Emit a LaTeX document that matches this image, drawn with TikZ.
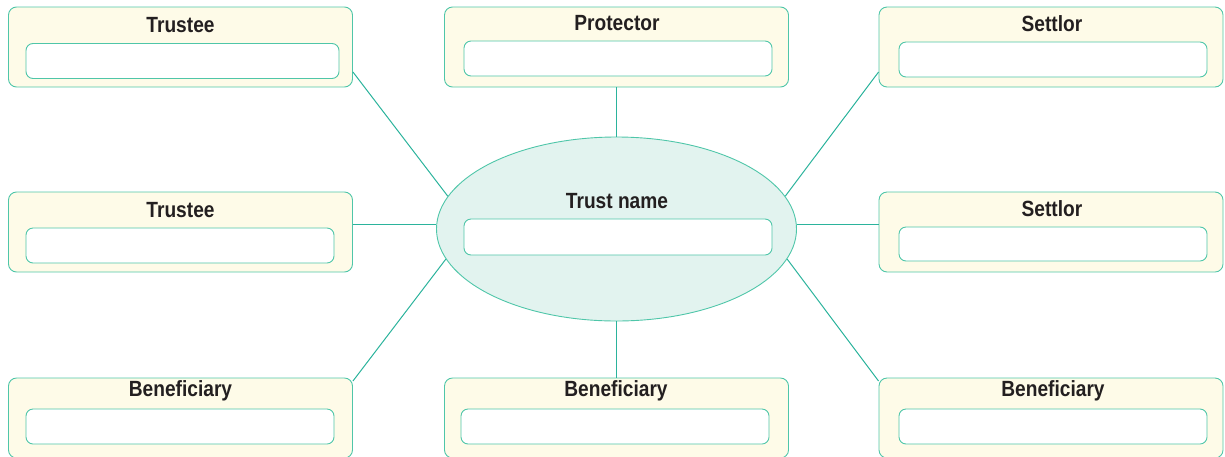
\documentclass[tikz,border=0pt]{standalone}
\usepackage{fontspec}
\setmainfont{Liberation Sans}
\newfontfamily\labfont[FakeStretch=0.87]{Liberation Sans}
\usetikzlibrary{shapes.geometric}
\definecolor{teal1}{HTML}{4FC6A9}
\definecolor{tealline}{HTML}{2BB39C}
\definecolor{boxfill}{HTML}{FEFBE8}
\definecolor{ellfill}{HTML}{E2F3EF}
\definecolor{txt}{HTML}{231F20}
\begin{document}
\begin{tikzpicture}[x=1pt,y=-1pt,
  outerbox/.style={draw=teal1,fill=boxfill,rounded corners=8pt,line width=0.9pt,minimum width=344pt,minimum height=80pt,inner sep=0pt},
  innerbox/.style={draw=teal1,fill=white,rounded corners=7pt,line width=0.9pt,minimum height=35pt,inner sep=0pt},
  title/.style={font=\labfont\bfseries\fontsize{22}{24}\selectfont,text=txt,inner sep=0pt},
  conn/.style={draw=tealline,line width=1pt}]
\useasboundingbox (0,0) rectangle (1225,456);
% outer boxes
\node[outerbox] (trustee1) at (180.5,47) {};
\node[outerbox] (protector) at (616.5,47) {};
\node[outerbox] (settlor1) at (1051,47) {};
\node[outerbox] (trustee2) at (180.5,232) {};
\node[outerbox] (settlor2) at (1051,232) {};
\node[outerbox] (benef1) at (180.5,418) {};
\node[outerbox] (benef2) at (616.5,418) {};
\node[outerbox] (benef3) at (1051,418) {};
% titles
\node[title] (trustee1t) at (180.5,25) {Trustee};
\node[title] (protectort) at (617,23) {Protector};
\node[title] (settlor1t) at (1052,24) {Settlor};
\node[title] (trustee2t) at (180.5,210) {Trustee};
\node[title] (settlor2t) at (1052,209) {Settlor};
\node[title] (benef1t) at (180.5,391) {Beneficiary};
\node[title] (benef2t) at (616,391) {Beneficiary};
\node[title] (benef3t) at (1053,391) {Beneficiary};
% inner boxes
\node[innerbox,minimum width=313pt] (trustee1in) at (182.5,61) {};
\node[innerbox,minimum width=308pt,minimum height=35pt] (protectorin) at (618,58.5) {};
\node[innerbox,minimum width=308pt] (settlor1in) at (1053,59.5) {};
\node[innerbox,minimum width=308pt] (trustee2in) at (180,245.5) {};
\node[innerbox,minimum width=308pt,minimum height=34pt] (settlor2in) at (1053,244) {};
\node[innerbox,minimum width=308pt] (benef1in) at (180,426.5) {};
\node[innerbox,minimum width=308pt] (benef2in) at (615,426.5) {};
\node[innerbox,minimum width=308pt] (benef3in) at (1053,426.5) {};
% centre ellipse
\node[draw=teal1,fill=ellfill,ellipse,line width=0.9pt,minimum width=360pt,minimum height=184pt,inner sep=0pt] (trust) at (616.5,229) {};
% connectors
\coordinate (a2) at ([yshift=8pt]trustee2.east);
\coordinate (b2) at ([yshift=8pt]settlor2.west);
\draw[conn] ([yshift=-25pt]trustee1.east) -- (trust.169);
\draw[conn] ([yshift=-25pt]settlor1.west) -- (trust.11);
\draw[conn] (protector.south) -- (trust.north);
\draw[conn] (a2) -- (a2 -| trust.west);
\draw[conn] (b2) -- (b2 -| trust.east);
\draw[conn] ([yshift=37pt]benef1.east) -- (trust.190);
\draw[conn] (benef2.north) -- (trust.south);
\draw[conn] ([yshift=37pt]benef3.west) -- (trust.350);
\node[title] (trustt) at (617,201) {Trust name};
\node[innerbox,minimum width=308pt,minimum height=36pt] (trustin) at (618,237) {};
\end{tikzpicture}
\end{document}
